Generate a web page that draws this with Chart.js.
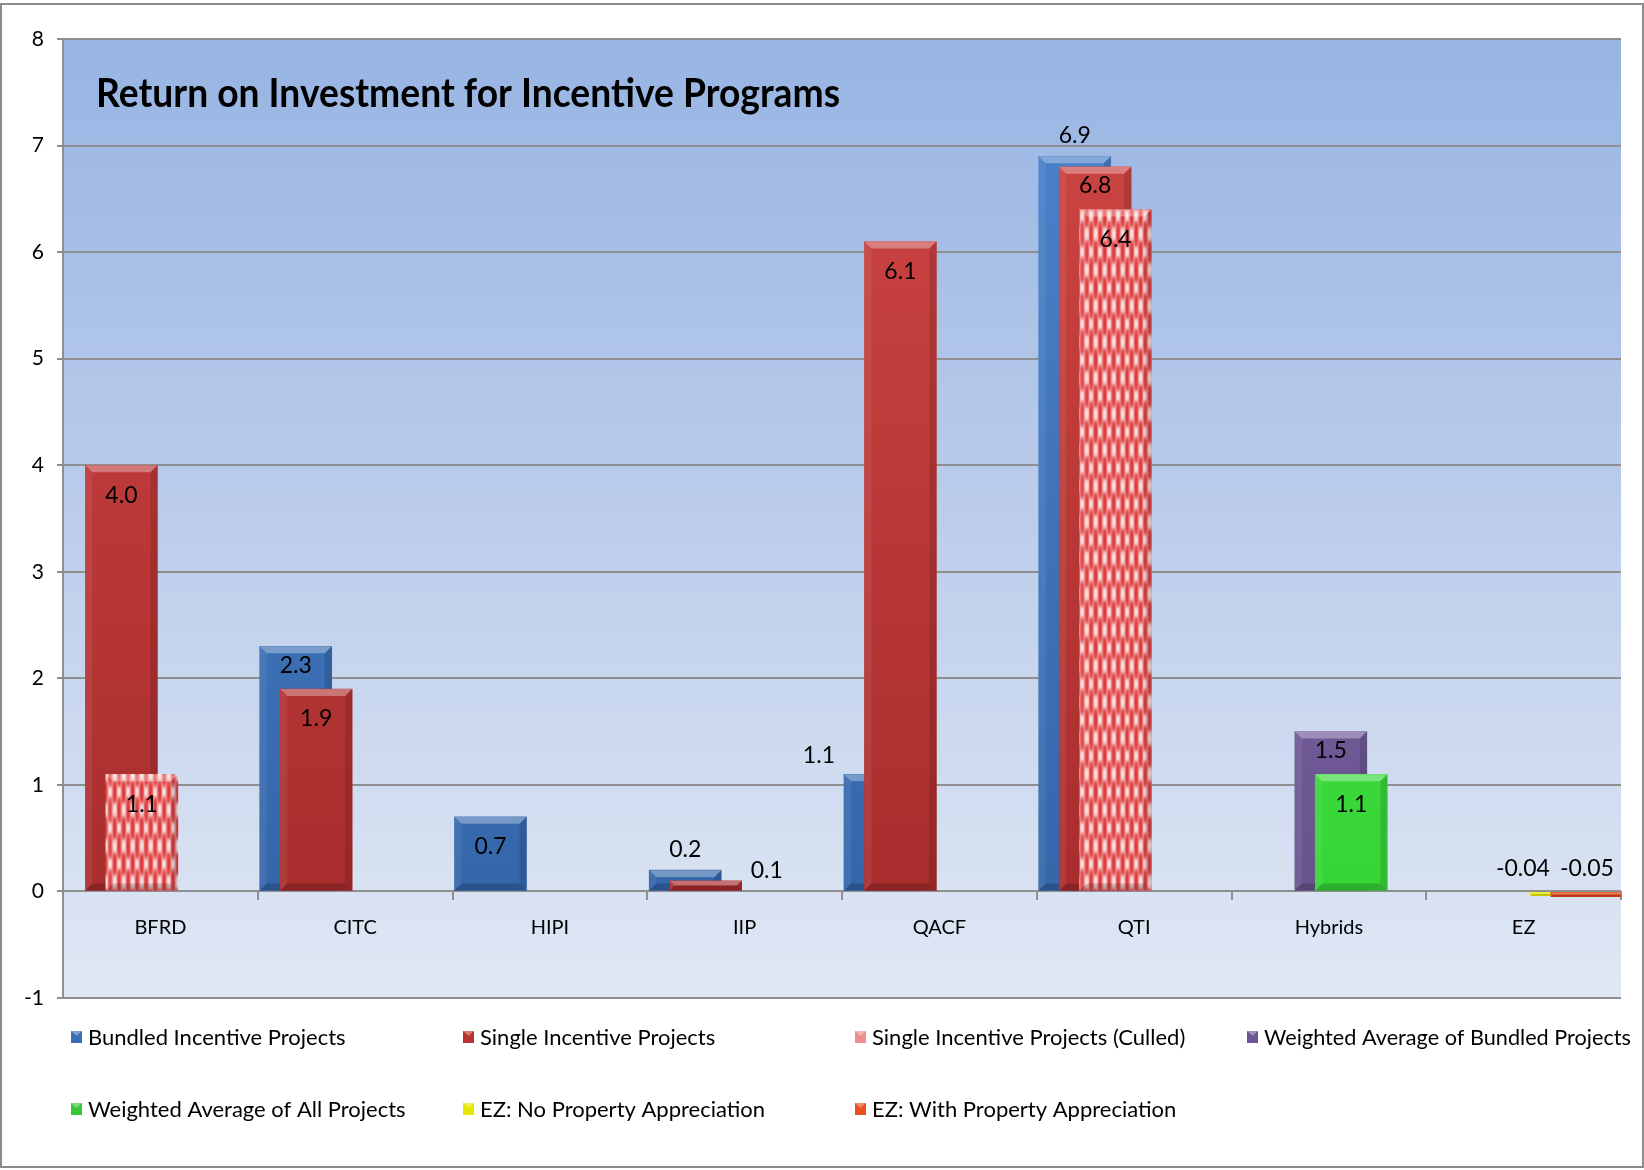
<!DOCTYPE html>
<html>
<head>
<meta charset="utf-8">
<title>Return on Investment for Incentive Programs</title>
<script src="https://cdn.jsdelivr.net/npm/chart.js@4.4.1/dist/chart.umd.min.js"></script>
<style>
    html, body { margin: 0; padding: 0; background: #fff; }
    #wrap { width: 1644px; height: 1170px; }
</style>
</head>
<body>
<div id="wrap"><canvas id="roi" width="1644" height="1170"></canvas></div>
<script>
const categories = ["BFRD", "CITC", "HIPI", "IIP", "QACF", "QTI", "Hybrids", "EZ"]

const seriesNames = [
    "Bundled Incentive Projects",
    "Single Incentive Projects",
    "Single Incentive Projects (Culled)",
    "Weighted Average of Bundled Projects",
    "Weighted Average of All Projects",
    "EZ: No Property Appreciation",
    "EZ: With Property Appreciation",
]

const bundled = [null, 2.3, 0.7, 0.2, 1.1, 6.9, null, null]
const single = [4.0, 1.9, null, 0.1, 6.1, 6.8, null, null]
const singleCulled = [1.1, null, null, null, null, 6.4, null, null]
const weightedBundled = [null, null, null, null, null, null, 1.5, null]
const weightedAll = [null, null, null, null, null, null, 1.1, null]
const ezNoAppreciation = [null, null, null, null, null, null, null, -0.04]
const ezWithAppreciation = [null, null, null, null, null, null, null, -0.05]

const yMin = -1
const yMax = 8
const chartTitle = "Return on Investment for Incentive Programs"

const seriesValues = [bundled, single, singleCulled, weightedBundled, weightedAll, ezNoAppreciation, ezWithAppreciation]

const seriesColors = [
    { top: "#4d84cc", bottom: "#3466aa", key: "#3a6db3" },
    { top: "#cf4744", bottom: "#a92d2d", key: "#b83431" },
    { pattern: true, key: "#ec8f8d" },
    { top: "#8a72b0", bottom: "#69538f", key: "#6b5593" },
    { top: "#55e655", bottom: "#36d536", key: "#37c837" },
    { top: "#f6f600", bottom: "#e8e800", key: "#e6e600" },
    { top: "#f45c22", bottom: "#e2461a", key: "#e8501c" },
]

const gridColor = "#8f8f8f"
const fontFamily = "Lato, 'Noto Sans', sans-serif"
const barStep = 0.105
const barShift = 0.01

const canvas = document.getElementById("roi")

const makeCulledPattern = () => {
    const tile = document.createElement("canvas")
    tile.width = 9
    tile.height = 36
    const g = tile.getContext("2d")
    g.fillStyle = "#ef9896"
    g.fillRect(0, 0, 9, 36)
    g.filter = "blur(1px)"
    const blob = (x, y, color, rx, ry) => {
        g.fillStyle = color
        g.beginPath()
        g.ellipse(x, y, rx, ry, 0, 0, Math.PI * 2)
        g.fill()
    }
    ;[0, 36].forEach((y) => {
        blob(2.2, y, "#ffffff", 1.3, 8)
        blob(6.7, y, "#d81e22", 1.5, 14)
    })
    blob(2.2, 18, "#d81e22", 1.5, 14)
    blob(6.7, 18, "#ffffff", 1.3, 8)
    return canvas.getContext("2d").createPattern(tile, "repeat")
}

const culledPattern = makeCulledPattern()

const barFill = (context, colors) => {
    const { chart } = context
    const area = chart.chartArea
    if (!area || !chart.scales.y) return colors.bottom
    const zero = chart.scales.y.getPixelForValue(0)
    const g = chart.ctx.createLinearGradient(0, area.top, 0, zero)
    g.addColorStop(0, colors.top)
    g.addColorStop(1, colors.bottom)
    return g
}

const formatValue = (v) => (Math.abs(v) < 0.1 ? v.toFixed(2) : v.toFixed(1))

const datasets = seriesValues.map((values, k) => ({
    label: seriesNames[k],
    data: values
        .map((v, i) => ({ x: i + (k - (seriesValues.length - 1) / 2) * barStep + barShift, y: v }))
        .filter((p) => p.y !== null),
    xAxisID: "xb",
    yAxisID: "y",
    grouped: false,
    barThickness: 72,
    borderWidth: 0,
    order: seriesValues.length - k,
    backgroundColor: seriesColors[k].pattern ? culledPattern : (ctx) => barFill(ctx, seriesColors[k]),
}))

const fillPoly = (ctx, pts, color) => {
    ctx.fillStyle = color
    ctx.beginPath()
    pts.forEach(([x, y], i) => (i ? ctx.lineTo(x, y) : ctx.moveTo(x, y)))
    ctx.closePath()
    ctx.fill()
}

const plotBackground = {
    id: "plotBackground",
    beforeDraw(chart) {
        const { ctx, chartArea: area } = chart
        ctx.save()
        const g = ctx.createLinearGradient(0, area.top, 0, area.bottom)
        g.addColorStop(0, "#97b4e3")
        g.addColorStop(0.5, "#bccdeb")
        g.addColorStop(1, "#e0e8f4")
        ctx.fillStyle = g
        ctx.fillRect(area.left, area.top, area.width, area.height)
        ctx.restore()
    },
}

const barBevel = {
    id: "barBevel",
    afterDatasetDraw(chart, args) {
        const { ctx, chartArea: area } = chart
        ctx.save()
        ctx.beginPath()
        ctx.rect(area.left, area.top, area.width, area.height)
        ctx.clip()
        args.meta.data.forEach((el) => {
            const { x, y, base, width } = el.getProps(["x", "y", "base", "width"], true)
            const top = Math.min(y, base)
            const bottom = Math.max(y, base)
            const left = x - width / 2
            const right = x + width / 2
            const h = bottom - top
            if (h < 1) return
            const b = Math.min(7, h / 2)
            fillPoly(ctx, [[left, top], [right, top], [right - b, top + b], [left + b, top + b]], "rgba(255,255,255,0.32)")
            fillPoly(ctx, [[right, top], [right, bottom], [right - b, bottom - b], [right - b, top + b]], "rgba(0,0,0,0.12)")
            fillPoly(ctx, [[left, top], [left + b, top + b], [left + b, bottom - b], [left, bottom]], "rgba(255,255,255,0.07)")
            fillPoly(ctx, [[left, bottom], [right, bottom], [right - b, bottom - b], [left + b, bottom - b]], "rgba(0,0,0,0.18)")
        })
        ctx.restore()
    },
}

const valueLabels = {
    id: "valueLabels",
    afterDatasetsDraw(chart) {
        const { ctx, chartArea: area } = chart
        ctx.save()
        ctx.font = `23px ${fontFamily}`
        const bars = []
        chart.data.datasets.forEach((ds, di) => {
            chart.getDatasetMeta(di).data.forEach((el, j) => {
                const { x, y, base, width } = el.getProps(["x", "y", "base", "width"], true)
                bars.push({
                    di,
                    cat: Math.round(ds.data[j].x),
                    value: ds.data[j].y,
                    x,
                    left: x - width / 2,
                    right: Math.min(x + width / 2, area.right),
                    top: Math.min(y, base),
                    bottom: Math.max(y, base),
                })
            })
        })
        bars.sort((a, b) => a.cat - b.cat || a.di - b.di)

        const hits = (a, b) => a.left < b.right && b.left < a.right && a.top < b.bottom && b.top < a.bottom
        const placed = []
        bars.forEach((bar) => {
            const text = formatValue(bar.value)
            const w = ctx.measureText(text).width
            const h = 22
            const box = (cx, cy) => ({ cx, cy, w, left: cx - w / 2, right: cx + w / 2, top: cy - h / 2, bottom: cy + h / 2 })
            const covers = bars.filter((o) => o.di > bar.di && o.cat === bar.cat && o.left < bar.right)
            const coverTop = Math.min(Infinity, ...covers.map((o) => o.top))
            let spot
            if (bar.bottom - bar.top >= 40 && coverTop - bar.top > 33) {
                spot = box(bar.x, bar.top + (coverTop - bar.top < 55 ? 19 : 30))
            } else {
                const others = bars.filter((o) => o !== bar)
                const prev = placed.filter((p) => p.cat === bar.cat)
                const free = (s) =>
                    s.left >= area.left &&
                    s.right <= area.right &&
                    !others.some((o) => hits(s, o)) &&
                    !placed.some((p) => hits(s, p)) &&
                    prev.every((p) => s.cx > p.cx)
                const tries = [
                    box(bar.x, bar.top - 21),
                    box(bar.right + 9 + w / 2, bar.top - 10),
                    box(bar.left - 9 - w / 2, bar.top - 19),
                ]
                spot = tries.find(free)
                if (!spot) {
                    spot = box(Math.min(bar.x, area.right - w / 2 - 3), bar.top - 24)
                    let edge = spot.left
                    prev.slice().reverse().forEach((p) => {
                        p.cx = edge - 10 - p.w / 2
                        p.cy = spot.cy
                        edge = p.cx - p.w / 2
                    })
                }
            }
            spot.text = text
            spot.cat = bar.cat
            placed.push(spot)
        })

        ctx.fillStyle = "#000"
        ctx.textAlign = "center"
        ctx.textBaseline = "middle"
        placed.forEach((p) => ctx.fillText(p.text, p.cx, p.cy))
        ctx.restore()
    },
}

const chartDecor = {
    id: "chartDecor",
    afterDraw(chart) {
        const { ctx, chartArea: area } = chart
        ctx.save()

        ctx.fillStyle = "#000"
        ctx.textBaseline = "alphabetic"
        ctx.textAlign = "left"
        ctx.font = `bold 40px ${fontFamily}`
        ctx.fillText(chartTitle, area.left + 33, area.top + 68, 744)

        const colWidth = 392
        ctx.font = `22px ${fontFamily}`
        ctx.textBaseline = "middle"
        seriesNames.forEach((name, k) => {
            const col = k % 4
            const row = Math.floor(k / 4)
            const mx = area.left + 8 + col * colWidth
            const my = area.bottom + 39 + row * 72
            const c = seriesColors[k]
            ctx.fillStyle = c.key
            ctx.fillRect(mx, my - 6, 11, 12)
            fillPoly(ctx, [[mx, my - 6], [mx + 11, my - 6], [mx + 5.5, my - 1]], "rgba(255,255,255,0.35)")
            ctx.fillStyle = "#000"
            ctx.fillText(name, mx + 17, my + 1, colWidth - 25)
        })

        ctx.strokeStyle = "#8c8c8c"
        ctx.lineWidth = 2
        ctx.strokeRect(1, 4, chart.width - 2, chart.height - 7)
        ctx.restore()
    },
}

new Chart(canvas, {
    type: "bar",
    data: {
        labels: categories,
        datasets,
    },
    plugins: [plotBackground, barBevel, valueLabels, chartDecor],
    options: {
        responsive: false,
        animation: false,
        devicePixelRatio: 1,
        layout: {
            padding: { left: 0, top: 39, right: 23, bottom: 172 },
        },
        plugins: {
            legend: { display: false },
            tooltip: { enabled: false },
        },
        scales: {
            x: {
                type: "category",
                position: { y: 0 },
                offset: true,
                grid: {
                    offset: true,
                    drawOnChartArea: false,
                    drawTicks: true,
                    tickLength: 9,
                    color: gridColor,
                    lineWidth: 2,
                },
                border: { display: false },
                ticks: {
                    color: "#000",
                    font: { family: fontFamily, size: 20 },
                    padding: 15,
                    maxRotation: 0,
                    autoSkip: false,
                },
            },
            xb: {
                type: "linear",
                axis: "x",
                display: false,
                offset: false,
                grid: { offset: false },
                min: -0.5,
                max: categories.length - 0.5,
            },
            y: {
                type: "linear",
                min: yMin,
                max: yMax,
                afterFit: (scale) => {
                    scale.width = 63
                },
                ticks: {
                    stepSize: 1,
                    color: "#000",
                    font: { family: fontFamily, size: 21 },
                    padding: 13,
                },
                grid: {
                    color: gridColor,
                    lineWidth: 2,
                    tickLength: 6,
                },
                border: { color: gridColor, width: 2 },
            },
        },
    },
})
</script>
</body>
</html>
